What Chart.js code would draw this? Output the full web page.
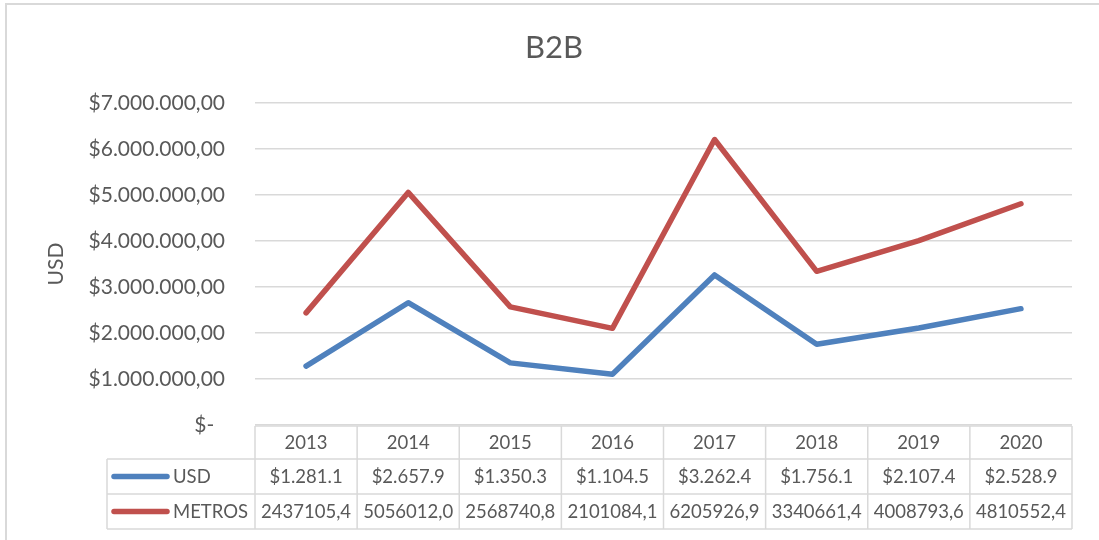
<!DOCTYPE html>
<html>
<head>
<meta charset="utf-8">
<script src="https://cdn.jsdelivr.net/npm/chart.js@4.4.1/dist/chart.umd.min.js"></script>
<style>
  html, body { margin: 0; padding: 0; background: #ffffff; }
  #wrap { width: 1099px; height: 540px; position: relative; }
</style>
</head>
<body>
<div id="wrap"><canvas id="c" width="1099" height="540"></canvas></div>
<script>
const chartTitle = 'B2B';
const yAxisTitle = 'USD';
const years = ['2013', '2014', '2015', '2016', '2017', '2018', '2019', '2020'];
const usdName = 'USD';
const usdValues = [1281100, 2657900, 1350300, 1104500, 3262400, 1756100, 2107400, 2528900];
const metrosName = 'METROS';
const metrosValues = [2437105.4, 5056012.0, 2568740.8, 2101084.1, 6205926.9, 3340661.4, 4008793.6, 4810552.4];
const yMin = 0, yMax = 7000000, yStep = 1000000;

const FONT = 'Lato, "Open Sans", sans-serif';
const TEXT = '#595959';
const GRID = '#D9D9D9';
const BLUE = '#4F81BD';
const RED = '#C0504D';

function groupDots(intStr) {
  return intStr.replace(/\B(?=(\d{3})+(?!\d))/g, '.');
}
function fmtTick(v) {
  if (v === 0) return '$-  ';
  return '$' + groupDots(String(Math.round(v))) + ',00';
}
function fmtUsd(v) {
  const k = (v / 1000).toFixed(1);
  const [i, d] = k.split('.');
  return '$' + groupDots(i) + '.' + d;
}
function fmtMetros(v) {
  return v.toFixed(1).replace('.', ',');
}

const tablePlugin = {
  id: 'tablePlugin',
  beforeDraw(chart) {
    const ctx = chart.ctx;
    ctx.save();
    ctx.fillStyle = '#ffffff';
    ctx.fillRect(0, 0, chart.width, chart.height);
    ctx.strokeStyle = GRID;
    ctx.lineWidth = 2;
    ctx.beginPath();
    ctx.moveTo(6, chart.height + 5);
    ctx.lineTo(6, 4);
    ctx.lineTo(chart.width + 5, 4);
    ctx.stroke();
    ctx.fillStyle = TEXT;
    ctx.font = '31px ' + FONT;
    ctx.textAlign = 'center';
    ctx.textBaseline = 'middle';
    ctx.fillText(chartTitle, 554, 48);
    ctx.restore();
  },
  afterDraw(chart) {
    const ctx = chart.ctx;
    const xs = chart.scales.x;
    const left = xs.left, right = xs.right;
    const n = years.length;
    const cw = (right - left) / n;
    const legLeft = 107;
    const r0 = 426, r1 = 459, r2 = 494, r3 = 529;
    ctx.save();
    ctx.strokeStyle = GRID;
    ctx.lineWidth = 1.5;
    ctx.beginPath();
    ctx.moveTo(left, r0); ctx.lineTo(right, r0);
    ctx.moveTo(legLeft, r1); ctx.lineTo(right, r1);
    ctx.moveTo(legLeft, r2); ctx.lineTo(right, r2);
    ctx.moveTo(legLeft, r3); ctx.lineTo(right, r3);
    ctx.moveTo(legLeft, r1); ctx.lineTo(legLeft, r3);
    for (let i = 0; i <= n; i++) {
      const x = left + i * cw;
      ctx.moveTo(x, r0); ctx.lineTo(x, r3);
    }
    ctx.stroke();

    ctx.fillStyle = TEXT;
    ctx.font = '18.5px ' + FONT;
    ctx.textAlign = 'center';
    ctx.textBaseline = 'middle';
    for (let i = 0; i < n; i++) {
      const cx = xs.getPixelForValue(i);
      ctx.fillText(years[i], cx, (r0 + r1) / 2 + 1);
      ctx.fillText(fmtUsd(usdValues[i]), cx, (r1 + r2) / 2 + 1);
      ctx.fillText(fmtMetros(metrosValues[i]), cx, (r2 + r3) / 2 + 1);
    }
    const rows = [[usdName, BLUE, (r1 + r2) / 2], [metrosName, RED, (r2 + r3) / 2]];
    rows.forEach(([name, col, cy]) => {
      ctx.strokeStyle = col;
      ctx.lineWidth = 5.5;
      ctx.lineCap = 'round';
      ctx.beginPath();
      ctx.moveTo(114, cy);
      ctx.lineTo(167, cy);
      ctx.stroke();
      ctx.fillStyle = TEXT;
      ctx.textAlign = 'left';
      ctx.fillText(name, 173, cy + 1);
    });
    ctx.restore();
  }
};

new Chart(document.getElementById('c'), {
  type: 'line',
  data: {
    labels: years,
    datasets: [
      { label: usdName, data: usdValues, borderColor: BLUE, backgroundColor: BLUE,
        borderWidth: 5.5, pointRadius: 0, tension: 0, borderCapStyle: 'round', borderJoinStyle: 'round' },
      { label: metrosName, data: metrosValues, borderColor: RED, backgroundColor: RED,
        borderWidth: 5.5, pointRadius: 0, tension: 0, borderCapStyle: 'round', borderJoinStyle: 'round' }
    ]
  },
  options: {
    responsive: false,
    animation: false,
    layout: { padding: { left: 0, right: 27, top: 103, bottom: 115 } },
    plugins: {
      legend: { display: false },
      title: { display: false },
      tooltip: { enabled: false }
    },
    scales: {
      x: { display: false, offset: true },
      y: {
        min: yMin, max: yMax,
        border: { display: false },
        grid: { color: GRID, lineWidth: 1.5, drawTicks: false },
        ticks: { stepSize: yStep, padding: 30, color: TEXT, font: { family: FONT, size: 21 }, callback: fmtTick },
        title: { display: true, text: yAxisTitle, color: TEXT, font: { family: FONT, size: 21 }, padding: { top: 44, bottom: 0 } },
        afterFit(scale) { scale.width = 255; }
      }
    }
  },
  plugins: [tablePlugin]
});
</script>
</body>
</html>
